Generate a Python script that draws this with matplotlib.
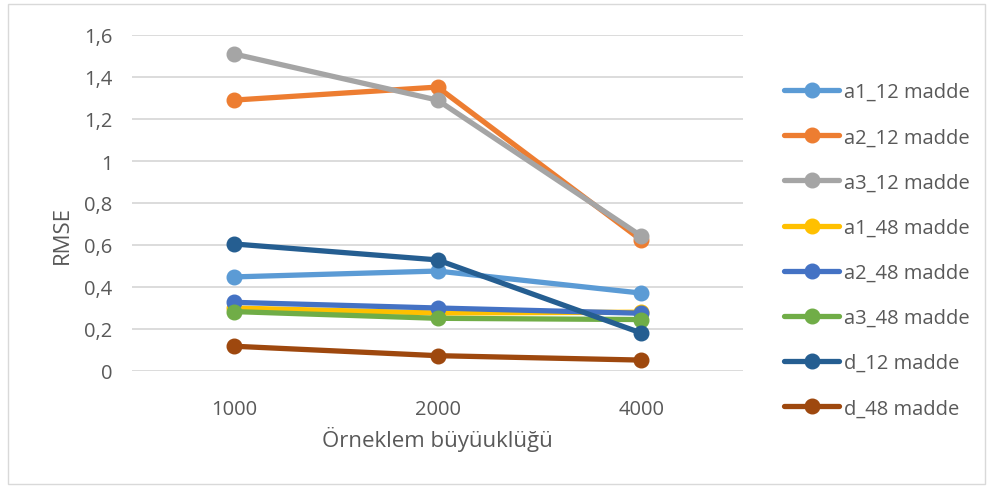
import matplotlib
matplotlib.use("Agg")
import matplotlib.pyplot as plt
from matplotlib.patches import Rectangle

categories = ["1000", "2000", "4000"]
series_names = ["a1_12 madde", "a2_12 madde", "a3_12 madde", "a1_48 madde",
                "a2_48 madde", "a3_48 madde", "d_12 madde", "d_48 madde"]
a1_12 = [0.448, 0.476, 0.371]
a2_12 = [1.290, 1.352, 0.624]
a3_12 = [1.510, 1.290, 0.643]
a1_48 = [0.300, 0.276, 0.280]
a2_48 = [0.327, 0.300, 0.275]
a3_48 = [0.283, 0.251, 0.245]
d_12 = [0.605, 0.529, 0.181]
d_48 = [0.118, 0.073, 0.052]
values = [a1_12, a2_12, a3_12, a1_48, a2_48, a3_48, d_12, d_48]
colors = ["#5B9BD5", "#ED7D31", "#A5A5A5", "#FFC000",
          "#4472C4", "#70AD47", "#255E91", "#9E480E"]
yticks = [0, 0.2, 0.4, 0.6, 0.8, 1.0, 1.2, 1.4, 1.6]
ytick_labels = ["0", "0,2", "0,4", "0,6", "0,8", "1", "1,2", "1,4", "1,6"]

plt.rcParams['font.family'] = ['Open Sans', 'DejaVu Sans']
W, H = 993, 489
fig = plt.figure(figsize=(W / 100, H / 100), dpi=100)
txt = "#595959"

ax = fig.add_axes([132 / W, (H - 372) / H, (743 - 132) / W, (372 - 36) / H])
x = list(range(len(categories)))
handles = []
for name, vals, c in zip(series_names, values, colors):
    h, = ax.plot(x, vals, color=c, lw=3.8, marker="o", ms=10.5,
                 solid_capstyle="round", label=name, zorder=3)
    handles.append(h)

ax.set_xlim(-0.5, 2.5)
ax.set_ylim(0, 1.6)
ax.set_yticks(yticks)
ax.set_yticklabels(ytick_labels)
ax.set_xticks(x)
ax.set_xticklabels(categories)
ax.tick_params(axis="both", length=0, labelsize=14.5, colors=txt)
ax.tick_params(axis="y", pad=14)
ax.tick_params(axis="x", pad=20)
for s in ax.spines.values():
    s.set_visible(False)
ax.grid(axis="y", color="#D9D9D9", lw=1.3, zorder=0)
ax.set_axisbelow(True)

fig.text(437 / W, 1 - 440 / H, "Örneklem büyüuklüğü", ha="center", va="center",
         fontsize=16, color=txt)
fig.text(62 / W, 1 - 235 / H, "RMSE", ha="center", va="center", rotation=90,
         fontsize=16, color=txt)

leg = fig.legend(handles=handles, loc="upper left",
                 bbox_to_anchor=(774 / W, 1 - 73 / H), frameon=False,
                 fontsize=14.5, labelspacing=1.25, handlelength=2.75,
                 handletextpad=0.25, borderpad=0)
for t in leg.get_texts():
    t.set_color(txt)

fig.add_artist(Rectangle((8 / W, 4 / H), (W - 16) / W, (H - 9) / H,
                         transform=fig.transFigure, fill=False,
                         edgecolor="#D9D9D9", lw=1))

fig.savefig("out.png", dpi=100)
